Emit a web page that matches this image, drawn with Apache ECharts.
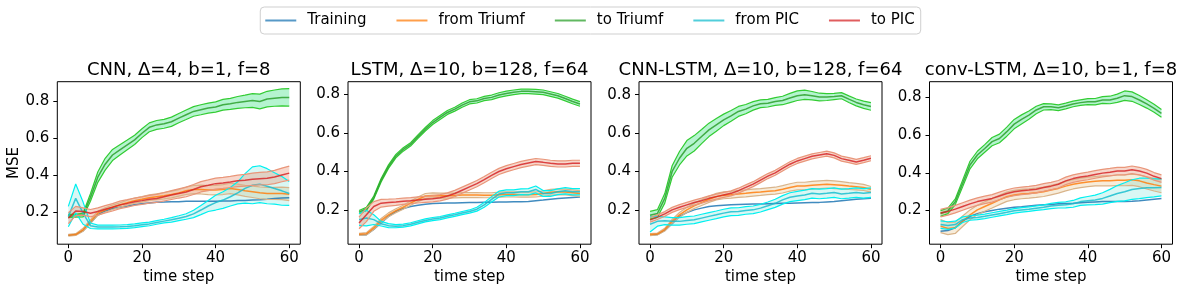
<!DOCTYPE html>
<html><head><meta charset="utf-8">
<script src="https://cdn.jsdelivr.net/npm/echarts@6/dist/echarts.min.js"></script>
<style>html,body{margin:0;padding:0;background:#fff}#c{width:1180px;height:292px}</style>
</head><body><div id="c"></div>
<script>
// ---------------- DATA ----------------
const steps = [0,2,4,6,8,10,12,14,16,18,20,22,24,26,28,30,32,34,36,38,40,42,44,46,48,50,52,54,56,58,60];
const xTicks = [0,20,40,60];
const yTicks = [0.2,0.4,0.6,0.8];
const seriesNames = ['Training','from Triumf','to Triumf','from PIC','to PIC'];
const panelTitles = ['CNN, Δ=4, b=1, f=8','LSTM, Δ=10, b=128, f=64','CNN-LSTM, Δ=10, b=128, f=64','conv-LSTM, Δ=10, b=1, f=8'];

// Panel 1: CNN
const cnnTraining = [0.075,0.079,0.10,0.141,0.186,0.207,0.22,0.227,0.234,0.241,0.246,0.25,0.254,0.255,0.257,0.257,0.259,0.259,0.259,0.259,0.259,0.261,0.261,0.263,0.264,0.266,0.268,0.271,0.275,0.277,0.279];
const cnnFromTriumf = [0.075,0.079,0.105,0.15,0.195,0.212,0.227,0.239,0.252,0.263,0.27,0.279,0.284,0.289,0.296,0.305,0.316,0.323,0.323,0.32,0.32,0.323,0.329,0.323,0.316,0.311,0.305,0.302,0.302,0.302,0.298];
const cnnFromTriumfSd = [0.005,0.005,0.008,0.01,0.012,0.012,0.012,0.012,0.013,0.014,0.015,0.015,0.016,0.017,0.018,0.018,0.02,0.022,0.024,0.025,0.026,0.027,0.028,0.029,0.03,0.031,0.032,0.033,0.033,0.034,0.035];
const cnnToTriumf = [0.18,0.181,0.185,0.28,0.39,0.46,0.51,0.538,0.565,0.592,0.628,0.66,0.673,0.679,0.69,0.71,0.728,0.746,0.755,0.764,0.77,0.782,0.787,0.795,0.80,0.805,0.80,0.813,0.818,0.822,0.822];
const cnnToTriumfSd = [0.008,0.008,0.01,0.02,0.028,0.032,0.03,0.028,0.026,0.025,0.024,0.024,0.024,0.024,0.025,0.025,0.026,0.026,0.027,0.027,0.028,0.029,0.03,0.032,0.034,0.037,0.04,0.042,0.044,0.046,0.047];
const cnnFromPIC = [0.177,0.275,0.195,0.127,0.12,0.12,0.12,0.121,0.123,0.127,0.132,0.137,0.145,0.152,0.159,0.168,0.177,0.191,0.212,0.234,0.252,0.266,0.284,0.305,0.329,0.346,0.352,0.341,0.329,0.316,0.302];
const cnnFromPICSd = [0.055,0.078,0.06,0.015,0.01,0.01,0.01,0.01,0.01,0.01,0.01,0.01,0.01,0.01,0.012,0.013,0.015,0.02,0.025,0.03,0.04,0.045,0.05,0.06,0.08,0.1,0.1,0.095,0.085,0.078,0.065];
const cnnToPIC = [0.168,0.207,0.204,0.195,0.204,0.216,0.227,0.24,0.248,0.257,0.263,0.27,0.275,0.284,0.293,0.302,0.31,0.323,0.338,0.346,0.355,0.359,0.364,0.37,0.373,0.379,0.382,0.384,0.391,0.402,0.412];
const cnnToPICSd = [0.03,0.025,0.02,0.02,0.02,0.02,0.02,0.02,0.02,0.02,0.02,0.021,0.022,0.023,0.024,0.025,0.026,0.027,0.028,0.029,0.03,0.03,0.03,0.031,0.032,0.033,0.034,0.035,0.036,0.037,0.038];

// Panel 2: LSTM
const lstmTraining = [0.071,0.073,0.10,0.134,0.168,0.193,0.208,0.219,0.225,0.231,0.234,0.236,0.237,0.237,0.238,0.239,0.24,0.241,0.241,0.242,0.242,0.243,0.244,0.245,0.249,0.252,0.256,0.26,0.263,0.266,0.268];
const lstmFromTriumf = [0.075,0.078,0.108,0.147,0.176,0.197,0.215,0.236,0.256,0.273,0.276,0.275,0.275,0.276,0.278,0.278,0.278,0.277,0.277,0.28,0.281,0.281,0.28,0.28,0.281,0.286,0.292,0.295,0.294,0.29,0.286];
const lstmFromTriumfSd = [0.005,0.006,0.008,0.01,0.01,0.01,0.01,0.011,0.012,0.013,0.013,0.013,0.013,0.013,0.013,0.013,0.013,0.013,0.013,0.013,0.013,0.013,0.013,0.013,0.013,0.014,0.015,0.015,0.015,0.015,0.015];
const lstmToTriumf = [0.19,0.207,0.265,0.355,0.425,0.479,0.514,0.54,0.58,0.618,0.653,0.679,0.705,0.722,0.743,0.76,0.765,0.777,0.783,0.795,0.803,0.809,0.814,0.814,0.812,0.809,0.8,0.791,0.777,0.762,0.749];
const lstmToTriumfSd = [0.008,0.008,0.008,0.009,0.009,0.009,0.009,0.009,0.009,0.009,0.01,0.01,0.01,0.01,0.011,0.011,0.011,0.011,0.012,0.012,0.012,0.012,0.012,0.012,0.012,0.012,0.012,0.012,0.012,0.012,0.012];
const lstmFromPIC = [0.151,0.159,0.151,0.13,0.12,0.117,0.12,0.127,0.137,0.147,0.154,0.159,0.168,0.176,0.185,0.193,0.205,0.227,0.256,0.283,0.29,0.29,0.295,0.295,0.307,0.286,0.286,0.295,0.3,0.295,0.295];
const lstmFromPICSd = [0.03,0.04,0.025,0.012,0.01,0.008,0.008,0.008,0.008,0.008,0.008,0.008,0.008,0.008,0.008,0.008,0.01,0.012,0.014,0.015,0.015,0.015,0.015,0.016,0.018,0.015,0.015,0.015,0.016,0.016,0.016];
const lstmToPIC = [0.134,0.176,0.219,0.236,0.239,0.242,0.246,0.249,0.253,0.256,0.259,0.264,0.273,0.286,0.303,0.32,0.337,0.358,0.38,0.40,0.414,0.425,0.436,0.444,0.451,0.447,0.442,0.439,0.439,0.442,0.442];
const lstmToPICSd = [0.03,0.035,0.025,0.02,0.018,0.017,0.016,0.016,0.016,0.016,0.016,0.016,0.016,0.016,0.016,0.016,0.016,0.016,0.016,0.016,0.016,0.016,0.016,0.016,0.016,0.016,0.016,0.016,0.016,0.016,0.016];

// Panel 3: CNN-LSTM
const cnnLstmTraining = [0.067,0.071,0.093,0.128,0.166,0.186,0.20,0.209,0.217,0.221,0.224,0.226,0.228,0.229,0.23,0.231,0.232,0.233,0.234,0.235,0.236,0.237,0.238,0.239,0.241,0.243,0.247,0.251,0.255,0.258,0.26];
const cnnLstmFromTriumf = [0.071,0.074,0.097,0.14,0.174,0.20,0.221,0.238,0.255,0.269,0.276,0.279,0.283,0.286,0.29,0.293,0.297,0.30,0.307,0.317,0.324,0.324,0.328,0.331,0.334,0.331,0.328,0.324,0.321,0.317,0.307];
const cnnLstmFromTriumfSd = [0.005,0.005,0.007,0.01,0.012,0.013,0.014,0.015,0.016,0.017,0.018,0.018,0.018,0.018,0.018,0.018,0.018,0.018,0.019,0.019,0.02,0.02,0.02,0.02,0.02,0.02,0.019,0.018,0.017,0.016,0.015];
const cnnLstmToTriumf = [0.172,0.181,0.26,0.40,0.469,0.521,0.547,0.582,0.617,0.643,0.669,0.69,0.713,0.725,0.742,0.753,0.756,0.765,0.77,0.783,0.795,0.80,0.795,0.788,0.788,0.791,0.795,0.777,0.76,0.748,0.739];
const cnnLstmToTriumfSd = [0.02,0.02,0.025,0.03,0.035,0.04,0.04,0.037,0.035,0.033,0.03,0.028,0.026,0.024,0.022,0.02,0.02,0.02,0.022,0.024,0.025,0.024,0.022,0.02,0.018,0.016,0.016,0.017,0.018,0.019,0.02];
const cnnLstmFromPIC = [0.125,0.14,0.143,0.14,0.14,0.145,0.148,0.157,0.166,0.174,0.183,0.19,0.191,0.197,0.20,0.209,0.221,0.234,0.252,0.266,0.272,0.278,0.286,0.283,0.286,0.29,0.283,0.286,0.29,0.286,0.29];
const cnnLstmFromPICSd = [0.04,0.025,0.02,0.02,0.02,0.02,0.02,0.02,0.02,0.02,0.02,0.02,0.02,0.02,0.02,0.02,0.02,0.021,0.022,0.023,0.024,0.025,0.025,0.025,0.025,0.025,0.025,0.025,0.025,0.025,0.025];
const cnnLstmToPIC = [0.148,0.162,0.179,0.20,0.214,0.226,0.238,0.248,0.26,0.269,0.278,0.286,0.30,0.317,0.334,0.355,0.376,0.393,0.416,0.438,0.455,0.467,0.479,0.486,0.493,0.484,0.467,0.459,0.45,0.459,0.469];
const cnnLstmToPICSd = [0.012,0.012,0.012,0.013,0.013,0.013,0.013,0.013,0.013,0.013,0.013,0.013,0.013,0.013,0.013,0.013,0.013,0.013,0.013,0.013,0.013,0.013,0.013,0.013,0.013,0.013,0.013,0.013,0.013,0.013,0.013];

// Panel 4: conv-LSTM
const convLstmTraining = [0.09,0.094,0.108,0.143,0.169,0.183,0.193,0.20,0.207,0.212,0.217,0.22,0.224,0.227,0.23,0.232,0.235,0.237,0.238,0.241,0.243,0.245,0.247,0.247,0.247,0.248,0.249,0.252,0.256,0.26,0.263];
const convLstmFromTriumf = [0.117,0.104,0.108,0.143,0.177,0.203,0.221,0.238,0.256,0.273,0.282,0.287,0.29,0.294,0.299,0.308,0.317,0.329,0.339,0.346,0.351,0.355,0.357,0.357,0.36,0.36,0.363,0.357,0.346,0.337,0.329];
const convLstmFromTriumfSd = [0.035,0.032,0.03,0.028,0.026,0.025,0.025,0.025,0.025,0.025,0.025,0.025,0.025,0.025,0.025,0.025,0.025,0.025,0.025,0.025,0.025,0.025,0.026,0.027,0.028,0.029,0.03,0.031,0.032,0.034,0.035];
const convLstmToTriumf = [0.184,0.198,0.246,0.343,0.441,0.494,0.529,0.565,0.582,0.618,0.658,0.683,0.706,0.733,0.75,0.75,0.745,0.754,0.765,0.772,0.777,0.777,0.786,0.786,0.795,0.809,0.804,0.786,0.765,0.742,0.715];
const convLstmToTriumfSd = [0.015,0.015,0.015,0.018,0.02,0.02,0.02,0.022,0.023,0.024,0.025,0.024,0.022,0.02,0.017,0.015,0.015,0.015,0.015,0.015,0.016,0.017,0.018,0.02,0.022,0.025,0.025,0.024,0.022,0.021,0.02];
const convLstmFromPIC = [0.125,0.12,0.125,0.151,0.16,0.163,0.169,0.176,0.183,0.19,0.198,0.203,0.207,0.212,0.217,0.224,0.228,0.23,0.235,0.247,0.252,0.256,0.264,0.277,0.29,0.299,0.311,0.317,0.32,0.32,0.322];
const convLstmFromPICSd = [0.02,0.02,0.018,0.015,0.012,0.012,0.012,0.012,0.012,0.012,0.012,0.012,0.012,0.012,0.013,0.014,0.015,0.016,0.018,0.02,0.022,0.025,0.03,0.035,0.042,0.048,0.052,0.054,0.052,0.048,0.045];
const convLstmToPIC = [0.186,0.195,0.207,0.221,0.235,0.247,0.256,0.264,0.277,0.29,0.299,0.304,0.308,0.313,0.322,0.329,0.339,0.357,0.369,0.377,0.383,0.391,0.398,0.403,0.409,0.409,0.416,0.409,0.398,0.381,0.369];
const convLstmToPICSd = [0.02,0.02,0.02,0.02,0.02,0.02,0.02,0.02,0.02,0.02,0.02,0.02,0.02,0.02,0.02,0.02,0.02,0.02,0.02,0.02,0.02,0.02,0.02,0.02,0.02,0.02,0.02,0.02,0.02,0.02,0.02];

// ---------------- LAYOUT / STYLE ----------------
const panels = [
  {mean:[cnnTraining,cnnFromTriumf,cnnToTriumf,cnnFromPIC,cnnToPIC], sd:[null,cnnFromTriumfSd,cnnToTriumfSd,cnnFromPICSd,cnnToPICSd], ymin:0.027, ymax:0.907},
  {mean:[lstmTraining,lstmFromTriumf,lstmToTriumf,lstmFromPIC,lstmToPIC], sd:[null,lstmFromTriumfSd,lstmToTriumfSd,lstmFromPICSd,lstmToPICSd], ymin:0.024, ymax:0.864},
  {mean:[cnnLstmTraining,cnnLstmFromTriumf,cnnLstmToTriumf,cnnLstmFromPIC,cnnLstmToPIC], sd:[null,cnnLstmFromTriumfSd,cnnLstmToTriumfSd,cnnLstmFromPICSd,cnnLstmToPICSd], ymin:0.021, ymax:0.868},
  {mean:[convLstmTraining,convLstmFromTriumf,convLstmToTriumf,convLstmFromPIC,convLstmToPIC], sd:[null,convLstmFromTriumfSd,convLstmToTriumfSd,convLstmFromPICSd,convLstmToPICSd], ymin:0.021, ymax:0.883}
];
const gridLeft = [57.3, 348, 639, 929.5];
const gridTop = 81.7, gridW = 243, gridH = 162.5;
const meanColor = ['#1f77b4','#ff7f0e','#2ca02c','#17becf','#d62728'];
const legendColor = ['#5799c7','#ff9f4a','#61b861','#51cedb','#e05d5e'];
const boundColor = [null,'#d9b48a','#33cc33','#00f0f0','#e9967a'];
const fillColor = [null,'rgba(232,200,150,0.35)','rgba(90,230,150,0.45)','rgba(0,200,180,0.15)','rgba(233,150,122,0.38)'];
const FONT = 'DejaVu Sans';

function bandRenderer(fill) {
  return function (params, api) {
    if (params.dataIndex !== 0) return null;
    const n = params.dataInsideLength;
    const up = [], lo = [];
    for (let j = 0; j < n; j++) {
      const t = api.value(0, j);
      lo.push(api.coord([t, api.value(1, j)]));
      up.push(api.coord([t, api.value(2, j)]));
    }
    return {type: 'polygon', shape: {points: lo.concat(up.reverse())}, style: {fill: fill, stroke: null}, silent: true};
  };
}

const grids = [], xAxes = [], yAxes = [], titles = [], series = [];
panels.forEach((p, i) => {
  grids.push({left: gridLeft[i], top: gridTop, width: gridW, height: gridH, show: true, borderColor: '#000', borderWidth: 1, backgroundColor: 'transparent'});
  titles.push({text: panelTitles[i], left: gridLeft[i] + gridW / 2, top: 61.5, padding: 0, textAlign: 'center',
    textStyle: {fontFamily: FONT, fontSize: 18, fontWeight: 'normal', color: '#000'}});
  xAxes.push({type: 'value', gridIndex: i, min: -3, max: 63, splitLine: {show: false},
    axisLine: {show: false, onZero: false},
    axisTick: {show: true, length: 4, lineStyle: {color: '#000'}, customValues: xTicks},
    axisLabel: {customValues: xTicks, margin: 6, color: '#000', fontFamily: FONT, fontSize: 15},
    name: 'time step', nameLocation: 'middle', nameGap: 24,
    nameTextStyle: {fontFamily: FONT, fontSize: 15, color: '#000'}});
  yAxes.push({type: 'value', gridIndex: i, min: p.ymin, max: p.ymax, splitLine: {show: false},
    axisLine: {show: false, onZero: false},
    axisTick: {show: true, length: 4, lineStyle: {color: '#000'}, customValues: yTicks},
    axisLabel: {customValues: yTicks, margin: 8, color: '#000', fontFamily: FONT, fontSize: 15, formatter: v => v.toFixed(1)},
    name: i === 0 ? 'MSE' : '', nameLocation: 'middle', nameGap: 36, nameRotate: 90,
    nameTextStyle: {fontFamily: FONT, fontSize: 15, color: '#000'}});
  p.mean.forEach((m, k) => {
    const sd = p.sd[k];
    if (sd) {
      series.push({type: 'custom', name: '_band', xAxisIndex: i, yAxisIndex: i, silent: true,
        renderItem: bandRenderer(fillColor[k]), encode: {x: 0, y: [1, 2]},
        data: steps.map((t, j) => [t, m[j] - sd[j], m[j] + sd[j]])});
      series.push({type: 'line', name: '_lo', xAxisIndex: i, yAxisIndex: i, silent: true,
        showSymbol: false, symbol: 'none', lineStyle: {color: boundColor[k], width: 1.2},
        data: steps.map((t, j) => [t, m[j] - sd[j]])});
      series.push({type: 'line', name: '_hi', xAxisIndex: i, yAxisIndex: i, silent: true,
        showSymbol: false, symbol: 'none', lineStyle: {color: boundColor[k], width: 1.2},
        data: steps.map((t, j) => [t, m[j] + sd[j]])});
    }
    series.push({type: 'line', name: seriesNames[k], xAxisIndex: i, yAxisIndex: i, silent: true,
      showSymbol: false, symbol: 'none', color: meanColor[k],
      lineStyle: {color: meanColor[k], width: 1.5, opacity: 0.85},
      data: steps.map((t, j) => [t, m[j]])});
  });
});

const chart = echarts.init(document.getElementById('c'), null, {renderer: 'canvas'});
chart.setOption({
  animation: false,
  backgroundColor: '#fff',
  title: titles,
  legend: {
    left: 'center', top: 7, orient: 'horizontal', selectedMode: false,
    icon: 'rect', itemWidth: 31, itemHeight: 2, itemGap: 30,
    padding: [6, 6, 6, 5], borderColor: '#cfcfcf', borderWidth: 1, borderRadius: 4,
    textStyle: {fontFamily: FONT, fontSize: 15, color: '#000', padding: [0, 0, 0, 6]},
    data: seriesNames.map((n, k) => ({name: n, itemStyle: {color: legendColor[k]}}))
  },
  grid: grids, xAxis: xAxes, yAxis: yAxes, series: series
});
</script></body></html>
